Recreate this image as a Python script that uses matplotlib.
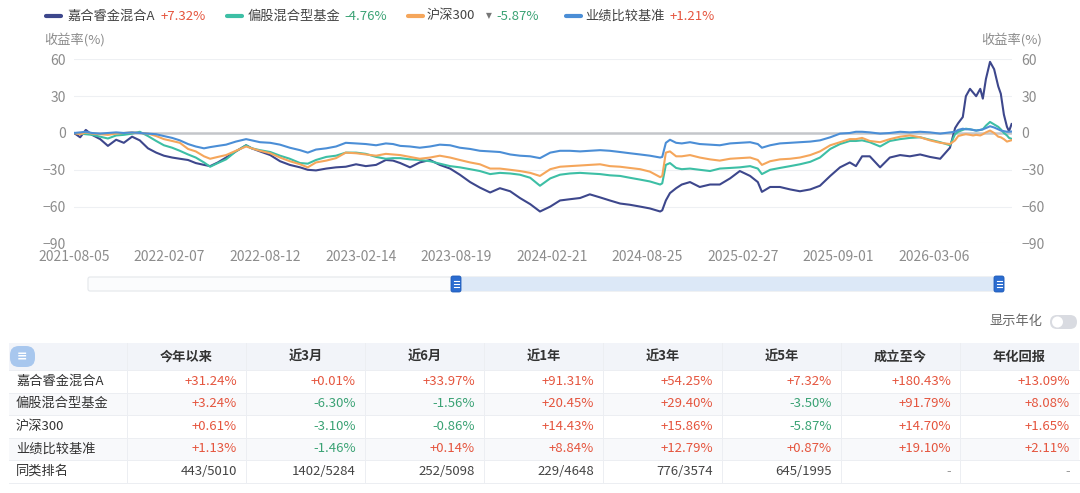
import matplotlib
matplotlib.use('Agg')
import matplotlib.pyplot as plt
import matplotlib.dates as mdates
from matplotlib.patches import FancyBboxPatch, Rectangle
import pandas as pd

plt.rcParams['font.family'] = ['Noto Sans CJK SC', 'DejaVu Sans']

# ---------------- data ----------------
start_date = '2021-08-05'
day_offset = [0, 12, 23, 35, 51, 66, 82, 97, 113, 128,
              144, 160, 175, 191, 206, 222, 237, 253, 265, 280,
              296, 315, 335, 346, 362, 382, 401, 420, 440, 455,
              471, 491, 510, 529, 549, 568, 588, 607, 621, 635,
              654, 673, 693, 712, 732, 751, 771, 790, 810, 829,
              849, 868, 888, 907, 927, 946, 965, 985, 1004, 1024,
              1043, 1063, 1082, 1102, 1121, 1141, 1145, 1152, 1160, 1172,
              1183, 1199, 1218, 1238, 1257, 1277, 1296, 1316, 1331, 1339,
              1355, 1374, 1394, 1413, 1433, 1452, 1472, 1491, 1510, 1522,
              1534, 1549, 1569, 1588, 1608, 1627, 1647, 1666, 1686, 1705,
              1715, 1721, 1730, 1736, 1744, 1750, 1756, 1764, 1769, 1775,
              1783, 1791, 1799, 1804, 1810, 1816, 1820, 1825]

fund_a = [0, -3.5, 2.5, -1.5, -5, -10.5, -5.5, -8, -3, -6,
          -12.5, -16, -18.5, -20, -21, -22, -24.5, -26, -27, -24,
          -20, -15, -10, -12.5, -15, -18, -23, -26, -28, -30,
          -30.5, -29, -28, -27.5, -25.5, -27, -26, -22, -22.5, -24.5,
          -28, -24, -22, -26, -29, -34, -40, -44.5, -48.5, -45,
          -47.5, -53, -58, -64, -60, -55, -54, -53, -50, -52.5,
          -55, -57.5, -58.5, -60, -61.5, -64, -63, -55, -49, -45,
          -42, -40, -44, -42, -42, -37, -31, -35, -40, -48,
          -44, -44, -46, -47.5, -46, -43, -35, -28, -24, -27,
          -19, -19, -28, -20, -18, -19, -17.5, -19.5, -21, -12,
          4, 8, 13, 30, 36, 33, 30, 36, 28, 44,
          58, 52, 38, 32, 15, 5, 1.5, 7.32]

peer_avg = [0, -0.5, -1, -1.5, -3, -4.5, -2, -1.5, -0.5, 1,
            -2.5, -6.5, -10, -12, -14.5, -17.5, -20, -24, -27.5, -24.5,
            -21.5, -15, -10, -12.5, -14, -15.5, -18.5, -21, -24.5, -25,
            -22, -19.5, -18.5, -16, -16, -17, -19.5, -21, -20.5, -20.5,
            -21.5, -22, -23, -25, -27, -28, -29.5, -31, -33.5, -32.5,
            -33, -34, -36.5, -43, -37, -34, -33, -32.5, -33, -33.5,
            -34.5, -35, -36.5, -38, -39.5, -42, -41, -26, -24.5, -28.5,
            -29.5, -29, -30, -31, -29, -28.5, -28, -27, -29, -33.5,
            -30, -28.5, -27, -25.5, -23.5, -20, -13, -9, -6.5, -6.5,
            -6, -7.5, -11, -6.5, -5, -4, -3.5, -5.5, -7.5, -10,
            -1, 1, 2.5, 3.5, 3, 2.5, 2, 2.5, 3, 6,
            9, 7, 5, 3, 0, -2, -4, -4.76]

hs300 = [0, -1, 0.5, -0.5, -1, -1.5, -0.5, 0, 0.5, 0,
         -0.5, -2.5, -5, -6.5, -8, -13, -15, -19, -21, -19.5,
         -18, -14.5, -11, -12.5, -14.5, -16.5, -20, -23, -25.5, -28,
         -24, -22.5, -20.5, -16, -16.5, -17.5, -18.5, -17, -17.5, -18,
         -19.5, -21, -20, -18.5, -20, -22, -24, -25.5, -29, -29,
         -30, -31, -32.5, -35, -29.5, -27.5, -27, -26.5, -26, -25.5,
         -27, -27.5, -28.5, -29.5, -31.5, -36, -35, -16, -15, -19,
         -19, -18, -20, -21.5, -22.5, -21, -20.5, -20, -22, -26,
         -23, -21.5, -21, -20, -18, -15, -10, -7.5, -5, -5,
         -4, -6.5, -7.5, -5, -3, -2, -3.5, -6, -8, -9,
         -6, -2.5, -1.5, -1, -1.5, -2, -1.5, -2, -1, 0.5,
         2, 0, -3, -3.5, -5, -7, -6.5, -5.87]

benchmark = [0, 0.5, 1, 0, -0.5, 0, 0.5, 0, 0.5, 0,
             -0.5, -1, -2.5, -4, -6, -9, -11, -12.5, -11.5, -10.5,
             -9.5, -7, -5, -6, -7.5, -8, -9.5, -12, -14, -16,
             -13.5, -12.5, -11, -8, -8.5, -9, -10, -8.5, -9, -10.5,
             -11, -12, -11, -9.5, -10, -12, -13, -14.5, -15, -15.5,
             -17.5, -18.5, -19, -20.5, -16, -14.5, -14.5, -15, -14.5, -14,
             -14.5, -15.5, -16.5, -17.5, -18.5, -20, -19.5, -8, -5.5, -8,
             -8.5, -7.5, -9, -9.5, -10, -8.5, -8, -7.5, -9, -12,
             -10, -8.5, -8, -7.5, -7, -6, -3.5, -0.5, 0, 1,
             1, 0.5, -0.5, 0, 1, 0.5, 1, 0.5, -0.5, 0.5,
             1, 2.5, 3.5, 3, 3, 2.5, 2, 2.5, 3, 4,
             5.5, 4.5, 3, 2, 1.5, 1, 1, 1.21]

series_names = ['嘉合睿金混合A', '偏股混合型基金', '沪深300', '业绩比较基准']
series_colors = ['#3d478c', '#3dbfa5', '#f5a65b', '#4b8ed6']
legend_values = ['+7.32%', '-4.76%', '-5.87%', '+1.21%']

tick_dates = ['2021-08-05', '2022-02-07', '2022-08-12', '2023-02-14', '2023-08-19',
              '2024-02-21', '2024-08-25', '2025-02-27', '2025-09-01', '2026-03-06']
y_ticks = [60, 30, 0, -30, -60, -90]

table_columns = ['今年以来', '近3月', '近6月', '近1年', '近3年', '近5年', '成立至今', '年化回报']
row_labels = ['嘉合睿金混合A', '偏股混合型基金', '沪深300', '业绩比较基准', '同类排名']
table_values = [
    ['+31.24%', '+0.01%', '+33.97%', '+91.31%', '+54.25%', '+7.32%', '+180.43%', '+13.09%'],
    ['+3.24%', '-6.30%', '-1.56%', '+20.45%', '+29.40%', '-3.50%', '+91.79%', '+8.08%'],
    ['+0.61%', '-3.10%', '-0.86%', '+14.43%', '+15.86%', '-5.87%', '+14.70%', '+1.65%'],
    ['+1.13%', '-1.46%', '+0.14%', '+8.84%', '+12.79%', '+0.87%', '+19.10%', '+2.11%'],
    ['443/5010', '1402/5284', '252/5098', '229/4648', '776/3574', '645/1995', '-', '-'],
]

RED = '#e5553e'
GREEN = '#3aa274'
GRAY = '#8c8c8c'
DARK = '#333333'

# ---------------- figure ----------------
W, H = 1080, 493
fig = plt.figure(figsize=(W / 100, H / 100), dpi=100)
fig.patch.set_facecolor('white')

ov = fig.add_axes([0, 0, 1, 1])
ov.set_xlim(0, W)
ov.set_ylim(H, 0)
ov.axis('off')

# legend
leg_items = [(46, 67, 161), (227, 248, 344), (408, 427, 496), (566, 585, 670)]
for (mx, tx, vx), name, col, val in zip(leg_items, series_names, series_colors, legend_values):
    ov.plot([mx, mx + 15], [16, 16], color=col, lw=3, solid_capstyle='round')
    ov.text(tx, 16, name, fontsize=9.5, color='#444444', va='center', ha='left')
    ov.text(vx, 16, val, fontsize=9.5, color=RED if val.startswith('+') else GREEN,
            va='center', ha='left')
ov.text(489, 16, '▼', fontsize=5.5, color='#777777', va='center', ha='center',
        family=['DejaVu Sans'])

ov.text(44, 40, '收益率(%)', fontsize=9.5, color=GRAY, va='center', ha='left')
ov.text(1042, 40, '收益率(%)', fontsize=9.5, color=GRAY, va='center', ha='right')

# ---------------- chart ----------------
x_left, x_right = 74, 1011.6
y_top, y_bot = 59.4, 243.4
ax = fig.add_axes([x_left / W, 1 - y_bot / H, (x_right - x_left) / W, (y_bot - y_top) / H])
ax.patch.set_alpha(0)
dates = pd.to_datetime(start_date) + pd.to_timedelta(day_offset, unit='D')
for y in y_ticks:
    if y != 0:
        ax.axhline(y, color='#eef0f3', lw=0.8, zorder=0)
ax.axhline(0, color='#c4c6ca', lw=1.8, zorder=1)
for vals, col in zip([fund_a, peer_avg, hs300, benchmark], series_colors):
    ax.plot(dates, vals, color=col, lw=1.5, zorder=3)
ax.set_xlim(dates[0], dates[-1])
ax.set_ylim(-90, 60)
ax.set_yticks(y_ticks)
ax.set_xticks(pd.to_datetime(tick_dates))
ax.xaxis.set_major_formatter(mdates.DateFormatter('%Y-%m-%d'))
for s in ax.spines.values():
    s.set_visible(False)
ax.tick_params(axis='both', length=0, colors=GRAY, labelsize=10)
ax.tick_params(axis='y', pad=6)
ax.tick_params(axis='x', pad=5)
ax2 = ax.twinx()
ax2.set_ylim(-90, 60)
ax2.set_yticks(y_ticks)
for s in ax2.spines.values():
    s.set_visible(False)
ax2.tick_params(axis='y', length=0, colors=GRAY, labelsize=10, pad=7)

# ---------------- slider ----------------
ov.add_patch(FancyBboxPatch((88, 277), 916, 14, boxstyle='round,pad=0,rounding_size=2',
                            facecolor='#fbfcfd', edgecolor='#e4e7eb', lw=0.8))
ov.add_patch(Rectangle((456, 277), 543, 14, facecolor='#dce8f7', edgecolor='none'))
for hx in (456, 999):
    ov.add_patch(FancyBboxPatch((hx - 5, 276), 10, 16, boxstyle='round,pad=0,rounding_size=2',
                                facecolor='#2b6cd0', edgecolor='#1f5bb8', lw=0.6))
    for dy in (-3, 0, 3):
        ov.plot([hx - 2.5, hx + 2.5], [284 + dy, 284 + dy], color='white', lw=0.8)

# toggle
ov.text(1043, 322, '显示年化', fontsize=9.5, color='#666666', va='center', ha='right')
ov.add_patch(FancyBboxPatch((1050, 315), 27, 14, boxstyle='round,pad=0,rounding_size=7',
                            facecolor='#d9dbe1', edgecolor='none'))
ov.add_patch(plt.Circle((1057.5, 322), 5.5, facecolor='white', edgecolor='none'))

# ---------------- table ----------------
col_edges = [9, 127, 246, 365, 484, 603, 722, 841, 960, 1079]
row_edges = [343, 370, 392.5, 415, 437.5, 460, 482.5]
ov.add_patch(Rectangle((col_edges[0], row_edges[0]), col_edges[-1] - col_edges[0],
                       row_edges[1] - row_edges[0], facecolor='#f2f4f9', edgecolor='none'))
for r in (1, 3):
    ov.add_patch(Rectangle((col_edges[0], row_edges[r + 1]), col_edges[-1] - col_edges[0],
                           row_edges[r + 2] - row_edges[r + 1], facecolor='#f8f9fb',
                           edgecolor='none'))
for yb in row_edges[1:]:
    ov.plot([col_edges[0], col_edges[-1]], [yb, yb], color='#eceef2', lw=0.7)
for xb in col_edges[1:-1]:
    ov.plot([xb, xb], [row_edges[0], row_edges[-1]], color='#eceef2', lw=0.7)

# icon
ov.add_patch(FancyBboxPatch((10, 346), 25, 21, boxstyle='round,pad=0,rounding_size=9',
                            facecolor='#a8c7ee', edgecolor='none'))
ov.text(22, 357, '≡', fontsize=9, color='white', va='center', ha='center',
        family=['DejaVu Sans'], fontweight='bold')

hdr_y = (row_edges[0] + row_edges[1]) / 2
for i, name in enumerate(table_columns):
    cx = (col_edges[i + 1] + col_edges[i + 2]) / 2
    ov.text(cx, hdr_y, name, fontsize=9.5, fontweight='bold', color=DARK,
            va='center', ha='center')

for r, (lab, vals) in enumerate(zip(row_labels, table_values)):
    cy = (row_edges[r + 1] + row_edges[r + 2]) / 2
    ov.text(16, cy, lab, fontsize=9.5, color=DARK, va='center', ha='left')
    for c, v in enumerate(vals):
        if v.startswith('+'):
            col = RED
        elif v.startswith('-') and len(v) > 1:
            col = GREEN
        elif v == '-':
            col = '#999999'
        else:
            col = '#444444'
        ov.text(col_edges[c + 2] - 9, cy, v, fontsize=9.5, color=col, va='center', ha='right')

fig.savefig('out.png', dpi=100, facecolor='white')
